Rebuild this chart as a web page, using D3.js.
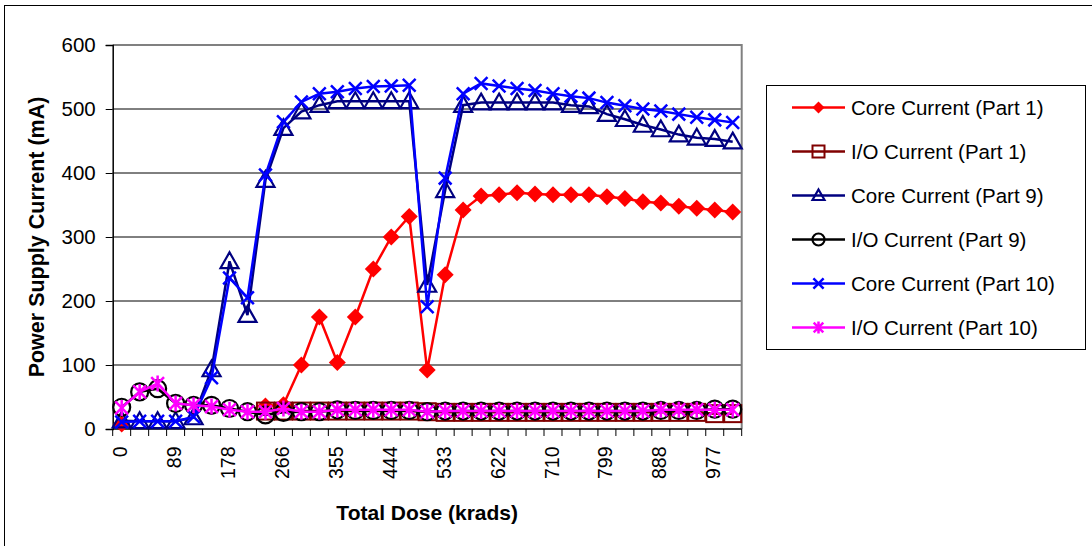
<!DOCTYPE html>
<html lang="en">
<head>
<meta charset="UTF-8">
<title>Power Supply Current vs Total Dose</title>
<script src="https://d3js.org/d3.v7.min.js"></script>
<style>
body { margin: 0; background: #fff; font-family: "Liberation Sans", Arial, sans-serif; }
svg text { font-family: "Liberation Sans", Arial, sans-serif; }
</style>
</head>
<body>
<svg width="1092" height="546"></svg>
<script>
// dose categories (krads)
const doses = [0, 30, 59, 89, 118, 148, 178, 207, 237, 266, 296, 326, 355, 385, 414, 444, 474,
  503, 533, 562, 592, 622, 651, 681, 710, 740, 770, 799, 829, 858, 888, 918, 947, 977, 1006];

const coreP1 = [8, null, null, null, null, null, null, null, 36, 38, 100, 175, 104, 175, 250, 300, 332,
  92, 241, 342, 364, 366, 369, 367, 366, 366, 366, 363, 360, 355, 353, 348, 345, 342, 339];
const ioP1 = [null, null, null, null, null, null, null, null, 28, 28, 28, 28, 28, 28, 28, 28, 28,
  27, 26, 26, 26, 26, 26, 26, 26, 26, 26, 26, 26, 26, 26, 26, 26, 24, 24];
const coreP9 = [13, 12, 12, 12, 18, 93, 262, 178, 389, 470, 496, 506, 512, 512, 512, 512, 512,
  225, 373, 506, 510, 510, 510, 510, 510, 506, 504, 492, 484, 475, 468, 460, 455, 453, 449];
const ioP9 = [34, 58, 63, 40, 37, 37, 32, 27, 22, 26, 27, 27, 30, 29, 29, 29, 29,
  27, 28, 28, 28, 28, 28, 28, 28, 28, 28, 28, 28, 28, 29, 29, 29, 31, 31];
const coreP10 = [11, 12, 12, 12, 19, 80, 236, 205, 397, 480, 511, 524, 527, 532, 535, 536, 537,
  191, 392, 524, 540, 536, 532, 529, 524, 520, 517, 510, 505, 500, 497, 492, 487, 483, 479];
const ioP10 = [33, 58, 71, 40, 37, 35, 30, 27, 27, 32, 27, 27, 30, 30, 30, 30, 30,
  27, 28, 28, 28, 28, 28, 28, 28, 28, 28, 28, 28, 28, 30, 30, 30, 30, 30];

const yTicks = [0, 100, 200, 300, 400, 500, 600];

const series = [
  { name: "Core Current (Part 1)", values: coreP1, color: "#ff0000", marker: "diamond" },
  { name: "I/O Current (Part 1)", values: ioP1, color: "#800000", marker: "square" },
  { name: "Core Current (Part 9)", values: coreP9, color: "#000080", marker: "triangle" },
  { name: "I/O Current (Part 9)", values: ioP9, color: "#000000", marker: "circle" },
  { name: "Core Current (Part 10)", values: coreP10, color: "#0000ff", marker: "x" },
  { name: "I/O Current (Part 10)", values: ioP10, color: "#ff00ff", marker: "star" }
];

const svg = d3.select("svg");
const pLeft = 112.7, pRight = 741.7, pTop = 45, pBottom = 429;

// chart border (only left / top visible in frame)
svg.append("rect")
  .attr("x", 4.5).attr("y", 5.5).attr("width", 1200).attr("height", 700)
  .attr("fill", "none").attr("stroke", "#000").attr("stroke-width", 1);

const x = d3.scaleBand().domain(doses.map(String)).range([pLeft, pRight]).padding(0);
const y = d3.scaleLinear().domain([0, 600]).range([pBottom, pTop]);
const cx = i => x(String(doses[i])) + x.bandwidth() / 2;

// gridlines
svg.append("g").selectAll("line")
  .data(yTicks.filter(d => d > 0 && d < 600))
  .enter().append("line")
    .attr("x1", pLeft).attr("x2", pRight)
    .attr("y1", d => y(d)).attr("y2", d => y(d))
    .attr("stroke", "#000").attr("stroke-width", 1);

// plot area border top/right
svg.append("path")
  .attr("d", `M${pLeft},${y(600)}H${pRight}V${pBottom}`)
  .attr("fill", "none").attr("stroke", "#808080").attr("stroke-width", 2);

// y axis
const yAxis = svg.append("g")
  .attr("transform", `translate(${pLeft},0)`)
  .call(d3.axisLeft(y).tickValues(yTicks).tickSize(7).tickPadding(10));
yAxis.select(".domain").attr("stroke", "#000").attr("stroke-width", 1.5);
yAxis.selectAll("line").attr("stroke", "#000");
yAxis.selectAll("text").attr("font-size", 20.5).attr("fill", "#000");

// x axis: tick marks on band edges, labels every 3rd category
const xg = svg.append("g");
xg.append("line").attr("x1", pLeft).attr("x2", pRight)
  .attr("y1", pBottom).attr("y2", pBottom).attr("stroke", "#000").attr("stroke-width", 1.5);
const edges = doses.map(d => x(String(d))).concat([pRight]);
xg.selectAll("line.tk").data(edges).enter().append("line")
  .attr("class", "tk")
  .attr("x1", d => d).attr("x2", d => d)
  .attr("y1", pBottom).attr("y2", pBottom + 7)
  .attr("stroke", "#000");
xg.selectAll("text").data(doses.filter((d, i) => i % 3 === 0)).enter().append("text")
  .attr("transform", d => `translate(${x(String(d)) + x.bandwidth() / 2 + 5.5},${pBottom + 17.5}) rotate(-90)`)
  .attr("text-anchor", "end")
  .attr("font-size", 19.5)
  .text(d => d);

// axis titles
svg.append("text")
  .attr("x", (pLeft + pRight) / 2).attr("y", 520)
  .attr("text-anchor", "middle").attr("font-size", 21).attr("font-weight", "bold")
  .text("Total Dose (krads)");
svg.append("text")
  .attr("transform", `translate(44,${(pTop + pBottom) / 2}) rotate(-90)`)
  .attr("text-anchor", "middle").attr("font-size", 21.5).attr("font-weight", "bold")
  .text("Power Supply Current (mA)");

// marker drawing
function drawMarker(g, type, color, s) {
  const h = s / 2;
  if (type === "diamond") {
    g.append("path").attr("d", `M0,${-h}L${h},0L0,${h}L${-h},0Z`).attr("fill", color);
  } else if (type === "square") {
    g.append("rect").attr("x", -h).attr("y", -h).attr("width", s).attr("height", s)
      .attr("fill", "none").attr("stroke", color).attr("stroke-width", 2);
  } else if (type === "triangle") {
    g.append("path").attr("d", `M0,${-h}L${h},${h * 0.75}L${-h},${h * 0.75}Z`)
      .attr("fill", "none").attr("stroke", color).attr("stroke-width", 2.2);
  } else if (type === "circle") {
    g.append("circle").attr("r", h).attr("fill", "none").attr("stroke", color).attr("stroke-width", 2.2);
  } else if (type === "x") {
    const k = h * 0.85;
    g.append("path").attr("d", `M${-k},${-k}L${k},${k}M${-k},${k}L${k},${-k}`)
      .attr("stroke", color).attr("stroke-width", 2.5);
  } else if (type === "star") {
    const k = h * 0.8;
    g.append("path").attr("d", `M${-k},${-k}L${k},${k}M${-k},${k}L${k},${-k}M0,${-h}V${h}`)
      .attr("stroke", color).attr("stroke-width", 2.5);
  }
}

const markerSize = { diamond: 17, square: 17, triangle: 18, circle: 17, x: 15, star: 16 };

const line = d3.line()
  .defined(d => d != null)
  .x((d, i) => cx(i))
  .y(d => y(d));

series.forEach(s => {
  const g = svg.append("g");
  g.append("path")
    .datum(s.values)
    .attr("d", line)
    .attr("fill", "none")
    .attr("stroke", s.color)
    .attr("stroke-width", 2.5);
  s.values.forEach((v, i) => {
    if (v == null) return;
    const m = g.append("g").attr("transform", `translate(${cx(i)},${y(v)})`);
    drawMarker(m, s.marker, s.color, markerSize[s.marker]);
  });
});

// legend
const lg = svg.append("g");
lg.append("rect").attr("x", 766.5).attr("y", 85.5).attr("width", 319).attr("height", 264)
  .attr("fill", "#fff").attr("stroke", "#000").attr("stroke-width", 1);
series.forEach((s, i) => {
  const yy = 107.5 + i * 44;
  const g = lg.append("g");
  g.append("line").attr("x1", 792).attr("x2", 845).attr("y1", yy).attr("y2", yy)
    .attr("stroke", s.color).attr("stroke-width", 2.5);
  const m = g.append("g").attr("transform", `translate(818.5,${yy})`);
  drawMarker(m, s.marker, s.color, 12);
  g.append("text").attr("x", 851).attr("y", yy + 7)
    .attr("font-size", 20.5).text(s.name);
});
</script>
</body>
</html>
